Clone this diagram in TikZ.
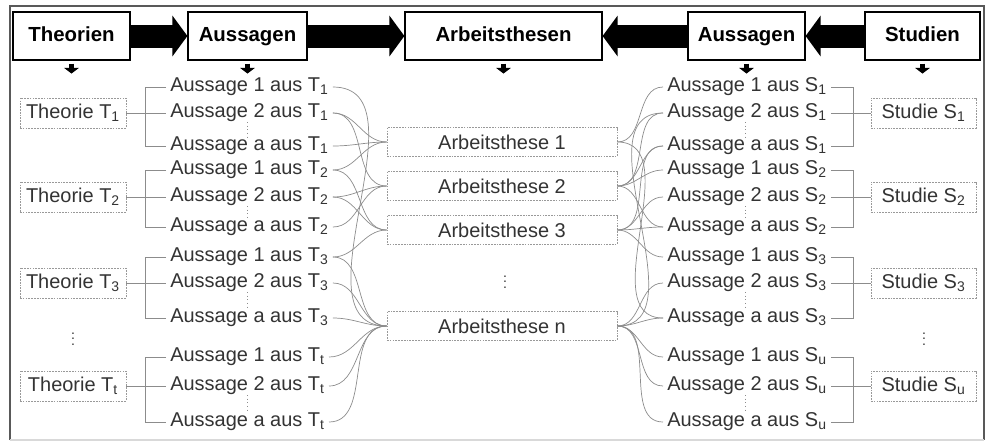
\documentclass[tikz,border=0pt]{standalone}
\usepackage{fontspec}
\setmainfont{Liberation Sans}
\usetikzlibrary{arrows.meta}
\definecolor{txtgray}{gray}{0.2}
\definecolor{linegray}{gray}{0.55}
\definecolor{boxgray}{gray}{0.6}
\tikzset{
	header/.style={draw=black, line width=0.8pt, minimum height=1.2cm, text height=1.9ex, text depth=0.5ex, font=\fontsize{14.5}{16}\selectfont\bfseries},
	aus/.style={inner xsep=0.1cm, inner ysep=0pt, text=txtgray, font=\fontsize{14.2}{16}\selectfont},
	sbox/.style={draw=boxgray, dash pattern=on 1.2pt off 0.8pt, minimum height=0.75cm, text=txtgray, font=\fontsize{14.2}{16}\selectfont},
	thes/.style={sbox, minimum width=5.75cm, minimum height=0.725cm},
	vdot/.style={inner sep=0pt, text=txtgray, font=\boldmath},
	link/.style={draw=linegray, line width=0.5pt},
	dotline/.style={draw=linegray, line width=0.6pt, dotted},
	bigarrow/.style={line width=0.575cm, -{Triangle[length=0.375cm,width=1cm]}},
	smallarrow/.style={line width=0.13cm, shorten <=0.075cm, -{Triangle[length=0.14cm,width=0.36cm]}}
}
% group of statements from one theory: #1 index, #2 subscript, #3 #4 #5 y of 1, 2, a
\def\theogroup#1#2#3#4#5{%
	\node[aus, anchor=west] (t#1a) at (166,#3) {Aussage 1 aus T\textsubscript{#2}};
	\node[aus, anchor=west] (t#1b) at (166,#4) {Aussage 2 aus T\textsubscript{#2}};
	\node[aus, anchor=west] (t#1c) at (166,#5) {Aussage a aus T\textsubscript{#2}};
	\node[sbox, minimum width=2.65cm] (theo#1) at (73,#4) {Theorie T\textsubscript{#2}};
	\draw[link] (t#1a.west) -- (145,#3) -- (145,#5) -- (t#1c.west);
	\draw[link] (theo#1.east) -- (t#1b.west);
	\draw[dotline] (247,{#4+9}) -- (247,{#5-9});
}
% same for one study
\def\studgroup#1#2#3#4#5{%
	\node[aus, anchor=west] (s#1a) at (663,#3) {Aussage 1 aus S\textsubscript{#2}};
	\node[aus, anchor=west] (s#1b) at (663,#4) {Aussage 2 aus S\textsubscript{#2}};
	\node[aus, anchor=west] (s#1c) at (663,#5) {Aussage a aus S\textsubscript{#2}};
	\node[sbox, minimum width=2.625cm] (stud#1) at (923.5,#4) {Studie S\textsubscript{#2}};
	\draw[link] (s#1a.east) -- (853,#3) -- (853,#5) -- (s#1c.east);
	\draw[link] (s#1b.east) -- (stud#1.west);
	\draw[dotline] (745,{#4+9}) -- (745,{#5-9});
}

\begin{document}
\begin{tikzpicture}[x=0.025cm, y=-0.025cm]
	%%%%% START %%%%%
	\useasboundingbox (0,0) rectangle (992,442);
	\draw[gray!70!black, line width=0.8pt] (10,440) -- (10,6) -- (984,6) -- (984,440);
	\draw[gray!30, line width=0.8pt] (10,440) -- (984,440);
	
	% header row
	\node[header, minimum width=2.925cm] (theorien) at (71.5,36) {Theorien};
	\node[header, minimum width=2.975cm] (aussagenl) at (247.5,36) {Aussagen};
	\node[header, minimum width=4.925cm] (arbeitsthesen) at (503.5,36) {Arbeitsthesen};
	\node[header, minimum width=2.925cm] (aussagenr) at (746.5,36) {Aussagen};
	\node[header, minimum width=2.875cm] (studien) at (922.5,36) {Studien};
	
	\draw[bigarrow] (theorien.east) -- (aussagenl.west);
	\draw[bigarrow] (aussagenl.east) -- (arbeitsthesen.west);
	\draw[bigarrow] (aussagenr.west) -- (arbeitsthesen.east);
	\draw[bigarrow] (studien.west) -- (aussagenr.east);
	
	\draw[smallarrow] (theorien.south) -- ++(0,13);
	\draw[smallarrow] (aussagenl.south) -- ++(0,13);
	\draw[smallarrow] (arbeitsthesen.south) -- ++(0,13);
	\draw[smallarrow] (aussagenr.south) -- ++(0,13);
	\draw[smallarrow] (studien.south) -- ++(0,13);
	
	% theories and studies
	\theogroup{1}{1}{87}{113}{146}
	\theogroup{2}{2}{170}{197}{227}
	\theogroup{3}{3}{257}{283}{318}
	\theogroup{4}{t}{357}{386}{422}
	\studgroup{1}{1}{87}{113}{146}
	\studgroup{2}{2}{170}{197}{227}
	\studgroup{3}{3}{257}{283}{318}
	\studgroup{4}{u}{357}{386}{422}
	
	\node[vdot] (vdotsl) at (73,335) {$\vdots$};
	\node[vdot] (vdotsr) at (924,335) {$\vdots$};
	
	% working theses
	\node[thes] (these1) at (502,142) {Arbeitsthese 1};
	\node[thes] (these2) at (502,186) {Arbeitsthese 2};
	\node[thes] (these3) at (502,230) {Arbeitsthese 3};
	\node[vdot] (vdotsm) at (505,278) {$\vdots$};
	\node[thes] (thesen) at (502,326) {Arbeitsthese n};
	
	% statements to theses, left
	\draw[link] (t1a.east) to[out=0, in=180] (thesen.west);
	\draw[link] (t1b.east) to[out=0, in=180] (these1.west);
	\draw[link] (t1b.east) to[out=0, in=180] (these2.west);
	\draw[link] (t1c.east) to[out=0, in=180] (these1.west);
	\draw[link] (t2a.east) to[out=0, in=180] (these1.west);
	\draw[link] (t2a.east) to[out=0, in=180] (these3.west);
	\draw[link] (t2b.east) to[out=0, in=180] (these2.west);
	\draw[link] (t2b.east) to[out=0, in=180] (these3.west);
	\draw[link] (t2c.east) to[out=0, in=180] (these2.west);
	\draw[link] (t3a.east) to[out=0, in=180] (these3.west);
	\draw[link] (t3a.east) to[out=0, in=180] (thesen.west);
	\draw[link] (t3b.east) to[out=0, in=180] (thesen.west);
	\draw[link] (t3c.east) to[out=0, in=180] (thesen.west);
	\draw[link] (t4a.east) to[out=0, in=180] (thesen.west);
	\draw[link] (t4b.east) to[out=0, in=180] (thesen.west);
	\draw[link] (t4c.east) to[out=0, in=180] (thesen.west);
	
	% statements to theses, right
	\draw[link] (s1a.west) to[out=180, in=0] (these1.east);
	\draw[link] (s1b.west) to[out=180, in=0] (these2.east);
	\draw[link] (s1b.west) to[out=180, in=0] (thesen.east);
	\draw[link] (s1c.west) to[out=180, in=0] (these2.east);
	\draw[link] (s1c.west) to[out=180, in=0] (these3.east);
	\draw[link] (s2a.west) to[out=180, in=0] (these2.east);
	\draw[link] (s2b.west) to[out=180, in=0] (these3.east);
	\draw[link] (s2c.west) to[out=180, in=0] (these3.east);
	\draw[link] (s2c.west) to[out=180, in=0] (these2.east);
	\draw[link] (s3a.west) to[out=180, in=0] (these3.east);
	\draw[link] (s3b.west) to[out=180, in=0] (thesen.east);
	\draw[link] (s3c.west) to[out=180, in=0] (thesen.east);
	\draw[link] (s3c.west) to[out=180, in=0] (these1.east);
	\draw[link] (s4a.west) to[out=180, in=0] (thesen.east);
	\draw[link] (s4b.west) to[out=180, in=0] (thesen.east);
	\draw[link] (s4c.west) to[out=180, in=0] (thesen.east);
	
	%%%%% END %%%%%
\end{tikzpicture}
\end{document}
